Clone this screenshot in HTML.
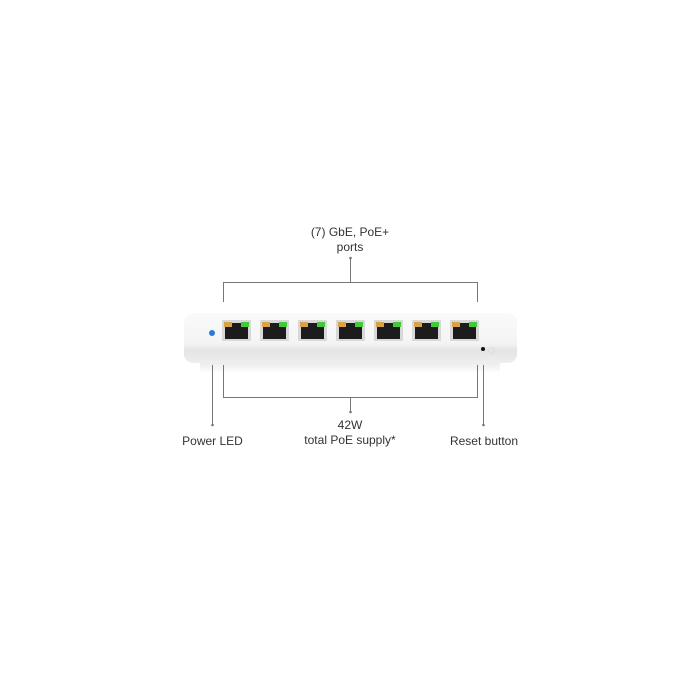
<!DOCTYPE html>
<html><head><style>
body{margin:0;width:700px;height:700px;background:#fff;position:relative;font-family:"Liberation Sans",sans-serif;color:#333;overflow:hidden}
.t{position:absolute;font-size:12px;text-align:center;line-height:15px}
.port{position:absolute;top:320px;width:29px;height:21px;background:#d8d8d8;border-radius:1px}
.port i{position:absolute;left:3px;top:3px;width:23px;height:16px;background:#1c1c1c}
.port b{position:absolute;top:2px;width:8px;height:5px}
.port .o{left:2px;background:#d9a24a}.port .g{right:2px;background:#45c83a}
</style></head><body>
<div style="position:absolute;left:184px;top:313px;width:333px;height:50px;border-radius:9px;background:linear-gradient(#fafafa,#f4f4f4 60%,#e4e4e4 75%,#eeeeee)"></div>
<div style="position:absolute;left:200px;top:363px;width:300px;height:10px;background:linear-gradient(#ececec,#fff)"></div>
<div style="position:absolute;left:209px;top:330px;width:6px;height:6px;border-radius:50%;background:#2a7bd6"></div>
<div style="position:absolute;left:481px;top:347px;width:4px;height:4px;border-radius:50%;background:#111"></div>
<div style="position:absolute;left:488px;top:347px;width:5px;height:5px;border-radius:50%;border:1px solid #ddd"></div>
<div class="port" style="left:222px"><i></i><b class="o"></b><b class="g"></b></div>
<div class="port" style="left:260px"><i></i><b class="o"></b><b class="g"></b></div>
<div class="port" style="left:298px"><i></i><b class="o"></b><b class="g"></b></div>
<div class="port" style="left:336px"><i></i><b class="o"></b><b class="g"></b></div>
<div class="port" style="left:374px"><i></i><b class="o"></b><b class="g"></b></div>
<div class="port" style="left:412px"><i></i><b class="o"></b><b class="g"></b></div>
<div class="port" style="left:450px"><i></i><b class="o"></b><b class="g"></b></div>
<svg style="position:absolute;left:0;top:0" width="700" height="700">
<g stroke="#777" stroke-width="1" fill="none">
<path d="M223.5 302V282.5H477.5V302M350.5 282V258"/>
<path d="M223.5 365V397.5H477.5V365M350.5 397V412"/>
<path d="M212.5 365V425M483.5 365V425"/>
</g>
<g fill="#777"><circle cx="350.5" cy="258" r="1.3"/><circle cx="350.5" cy="412" r="1.3"/><circle cx="212.5" cy="425" r="1.3"/><circle cx="483.5" cy="425" r="1.3"/></g>
</svg>
<div class="t" style="left:280px;top:225px;width:140px">(7) GbE, PoE+<br>ports</div>
<div class="t" style="left:280px;top:418px;width:140px">42W<br>total PoE supply*</div>
<div class="t" style="left:170px;top:434px;width:85px">Power LED</div>
<div class="t" style="left:440px;top:434px;width:88px">Reset button</div>
</body></html>
